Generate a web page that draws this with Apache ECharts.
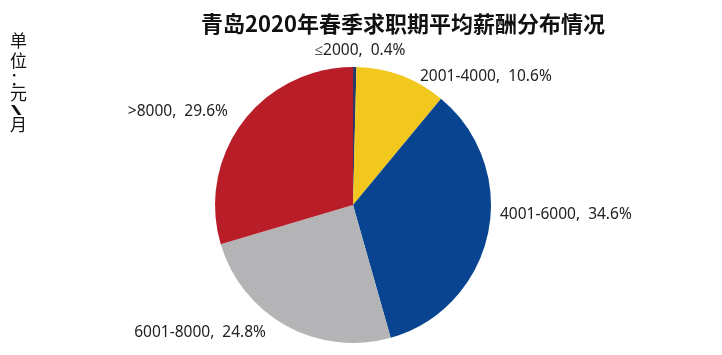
<!DOCTYPE html>
<html><head><meta charset="utf-8">
<script src="https://cdn.jsdelivr.net/npm/echarts@6/dist/echarts.min.js"></script>
<style>html,body{margin:0;padding:0;background:#fff}#c{width:722px;height:355px}</style>
</head><body><div id="c"></div>
<script>
const titleText = '青岛2020年春季求职期平均薪酬分布情况';
const unitChars = ['单', '位', '：', '元', '\\', '月'];
const categories = ['≤2000', '2001-4000', '4001-6000', '6001-8000', '>8000'];
const values = [0.4, 10.6, 34.6, 24.8, 29.6];
const colors = ['#2A3A66', '#F2C71E', '#08448F', '#B4B4B6', '#B91E28'];

// label anchor placement (x, y, align) – layout only
const labelPlace = [
  [360, 51, 'center'],
  [420, 77, 'left'],
  [500, 215, 'left'],
  [266, 333, 'right'],
  [228, 112, 'right']
];
const unitTops = [32, 52, 70, 85, 103, 116];

const chart = echarts.init(document.getElementById('c'));
chart.setOption({
  animation: false,
  title: {
    text: titleText, left: 398, top: 8, textAlign: 'center',
    textStyle: {fontFamily: 'Noto Sans CJK SC', fontWeight: 'bold', fontSize: 22, color: '#111'}
  },
  graphic: unitChars.map((ch, i) => ch === '\\' ? ({
    type: 'text', x: 11, y: unitTops[i] + 1, scaleX: 1.7, scaleY: 0.9,
    style: {text: ch, font: 'bold 15px "Noto Sans"', fill: '#111'}
  }) : ({
    type: 'text', x: 10, y: unitTops[i],
    style: {text: ch, font: '17px "Noto Sans CJK SC"', fill: '#111'}
  })),
  series: [{
    type: 'pie',
    center: [353, 205],
    radius: 138,
    startAngle: 90,
    clockwise: true,
    data: categories.map((c, i) => ({name: c, value: values[i], itemStyle: {color: colors[i]}})),
    label: {
      show: true, position: 'outside',
      formatter: p => p.name + ',  ' + p.value.toFixed(1) + '%',
      fontFamily: 'Noto Sans', fontSize: 15.5, color: '#222'
    },
    labelLine: {show: false},
    labelLayout: p => ({
      x: labelPlace[p.dataIndex][0], y: labelPlace[p.dataIndex][1],
      align: labelPlace[p.dataIndex][2], verticalAlign: 'middle'
    }),
    itemStyle: {borderWidth: 0}
  }]
});
</script></body></html>
